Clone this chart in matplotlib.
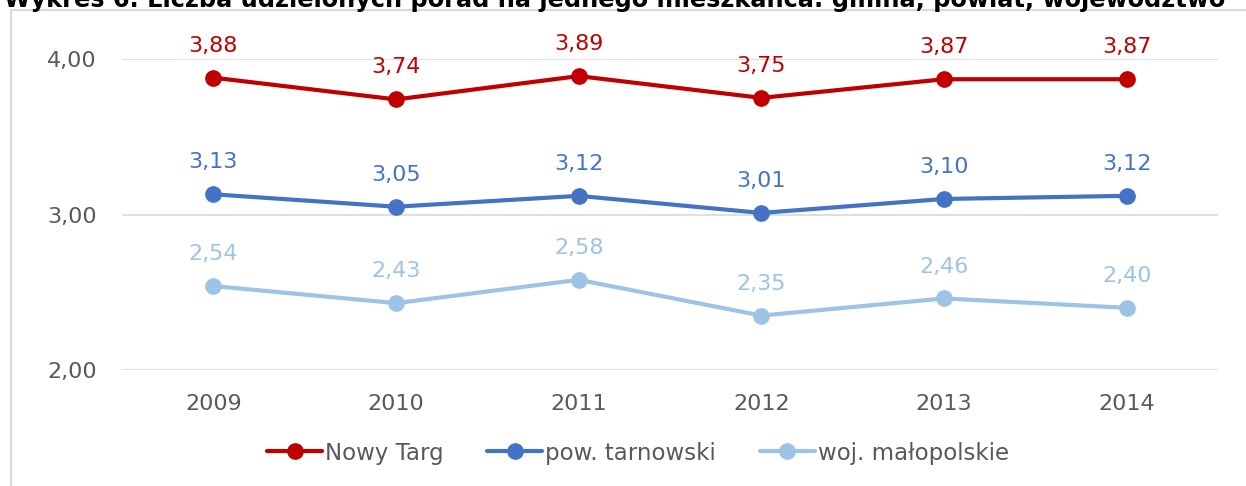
import matplotlib
matplotlib.use("Agg")
import matplotlib.pyplot as plt
from matplotlib.lines import Line2D

years = ["2009", "2010", "2011", "2012", "2013", "2014"]
nowy_targ = [3.88, 3.74, 3.89, 3.75, 3.87, 3.87]
pow_tarnowski = [3.13, 3.05, 3.12, 3.01, 3.10, 3.12]
woj_malopolskie = [2.54, 2.43, 2.58, 2.35, 2.46, 2.40]
series_names = ["Nowy Targ", "pow. tarnowski", "woj. małopolskie"]
y_ticks = [2.0, 3.0, 4.0]
title = "Wykres 6. Liczba udzielonych porad na jednego mieszkańca: gmina, powiat, województwo"

colors = ["#C00000", "#4472C4", "#9DC3E6"]

plt.rcParams['font.family'] = ['DejaVu Sans']
W, H = 1246, 486
fig = plt.figure(figsize=(W / 100, H / 100), dpi=100)
ax = fig.add_axes([122 / W, 1 - 370 / H, (1218 - 122) / W, (370 - 59) / H])

x = list(range(len(years)))
for vals, name, c in zip([nowy_targ, pow_tarnowski, woj_malopolskie], series_names, colors):
    ax.plot(x, vals, color=c, lw=3, marker='o', markersize=11, label=name,
            solid_capstyle='round', zorder=3)
    for xi, v in zip(x, vals):
        ax.annotate(f"{v:.2f}".replace('.', ','), (xi, v), xytext=(0, 23),
                    textcoords='offset points', ha='center', va='center',
                    color=c, fontsize=16, annotation_clip=False)

ax.set_xlim(-0.5, len(years) - 0.5)
ax.set_ylim(2.0, 4.0)
ax.set_yticks(y_ticks)
ax.set_yticklabels([f"{t:.2f}".replace('.', ',') for t in y_ticks])
ax.set_xticks(x)
ax.set_xticklabels(years)
ax.tick_params(axis='both', length=0, labelsize=16, colors='#595959')
ax.tick_params(axis='x', pad=17)
ax.tick_params(axis='y', pad=18)
ax.grid(axis='y', color='#d9d9d9', lw=1.2)
ax.set_axisbelow(True)
for s in ax.spines.values():
    s.set_visible(False)

fig.legend(loc='center', bbox_to_anchor=(0.512, 1 - 453 / H), ncol=3, frameon=False,
           fontsize=16.5, handlelength=2.4, handletextpad=0.13, columnspacing=1.9,
           labelcolor='#595959')

# frame
fig.add_artist(Line2D([10.5 / W, 10.5 / W], [0, 1 - 10 / H], color='#d9d9d9', lw=1.5,
                      transform=fig.transFigure))
fig.add_artist(Line2D([10.5 / W, 1], [1 - 10 / H, 1 - 10 / H], color='#d9d9d9', lw=1.5,
                      transform=fig.transFigure))

fig.text(1225 / W, 1 - 7 / H, title, ha='right', va='baseline', fontsize=17.3,
         fontweight='bold', color='black')

fig.savefig("out.png", dpi=100)
